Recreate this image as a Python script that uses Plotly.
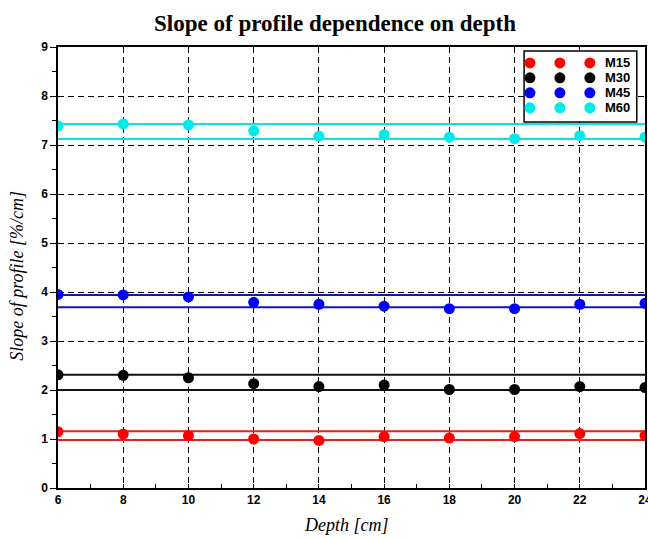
import plotly.graph_objects as go

# ---- data ----
depth = [6, 8, 10, 12, 14, 16, 18, 20, 22, 24]
series_names = ["M15", "M30", "M45", "M60"]
m15 = [1.15, 1.10, 1.07, 1.00, 0.97, 1.05, 1.02, 1.05, 1.11, 1.07]
m30 = [2.31, 2.30, 2.25, 2.13, 2.07, 2.10, 2.01, 2.01, 2.07, 2.05]
m45 = [3.95, 3.94, 3.90, 3.79, 3.75, 3.71, 3.66, 3.66, 3.75, 3.77]
m60 = [7.39, 7.43, 7.41, 7.29, 7.18, 7.21, 7.16, 7.13, 7.19, 7.16]
# horizontal band lines (lower, upper) per series
band15 = [0.98, 1.16]
band30 = [2.00, 2.31]
band45 = [3.69, 3.94]
band60 = [7.12, 7.43]
y_ticks = [0, 1, 2, 3, 4, 5, 6, 7, 8, 9]
x_ticks = [6, 8, 10, 12, 14, 16, 18, 20, 22, 24]

values = [m15, m30, m45, m60]
bands = [band15, band30, band45, band60]
marker_colors = ["#ff0000", "#000000", "#0000ff", "#00ecec"]
line_colors = ["#e82020", "#111111", "#1010d0", "#10e0e0"]

fig = go.Figure()
x_span = [min(depth), max(depth)]
for name, vals, band, mc, lc in zip(series_names, values, bands, marker_colors, line_colors):
    for b in band:
        fig.add_trace(go.Scatter(x=x_span, y=[b, b], mode="lines",
                                 line=dict(color=lc, width=2), showlegend=False,
                                 hoverinfo="skip"))
    fig.add_trace(go.Scatter(x=depth, y=vals, mode="markers", name=name,
                             marker=dict(color=mc, size=11), showlegend=False))

tick_font = dict(family="Liberation Sans", size=12, color="black", weight="bold")
title_font = dict(family="Liberation Serif", size=18, color="black")

fig.update_layout(
    width=648, height=538,
    margin=dict(l=58, r=3, t=47, b=50, autoexpand=False),
    paper_bgcolor="white", plot_bgcolor="white",
    title=dict(text="<b>Slope of profile dependence on depth</b>",
               font=dict(family="Liberation Serif", size=23, color="black"),
               x=0.517, xanchor="center", y=0.958, yanchor="middle"),
    xaxis=dict(range=[6, 24], tickvals=x_ticks, ticks="inside", ticklen=4,
               tickcolor="black", tickfont=tick_font, automargin=False,
               ticklabeloverflow="allow",
               showline=True, linecolor="black", linewidth=1.5, mirror=True,
               showgrid=True, gridcolor="black", gridwidth=1, griddash="6px,4px",
               minor=dict(dtick=1, ticks="inside", ticklen=4, tickcolor="black", showgrid=False),
               zeroline=False),
    yaxis=dict(range=[0, 9], tickvals=y_ticks, ticks="outside", ticklen=6,
               tickcolor="black", tickfont=tick_font, automargin=False,
               ticklabeloverflow="allow",
               showline=True, linecolor="black", linewidth=1.5, mirror=True,
               showgrid=True, gridcolor="black", gridwidth=1, griddash="6px,4px",
               minor=dict(dtick=0.5, ticks="outside", ticklen=4, tickcolor="black", showgrid=False),
               zeroline=False),
)

# axis titles as annotations for exact placement
fig.add_annotation(xref="paper", yref="paper", x=0.492, y=-0.084,
                   text="<i>Depth [cm]</i>", showarrow=False,
                   xanchor="center", yanchor="middle", font=title_font)
fig.add_annotation(xref="paper", yref="paper", x=-0.070, y=0.481,
                   text="<i>Slope of profile [%/cm]</i>", showarrow=False, textangle=-90,
                   xanchor="center", yanchor="middle", font=title_font)

# ---- custom legend (three dots per entry, as in the reference) ----
fig.add_shape(type="rect", xref="paper", yref="paper",
              x0=0.794, x1=0.986, y0=0.830, y1=0.991,
              fillcolor="white", line=dict(color="black", width=1.5), layer="above")
dot_x = [0.804, 0.855, 0.906]
row_y = [0.964, 0.930, 0.896, 0.862]
for name, mc, ry in zip(series_names, marker_colors, row_y):
    for dx in dot_x:
        fig.add_shape(type="circle", xref="paper", yref="paper",
                      xsizemode="pixel", ysizemode="pixel",
                      xanchor=dx, yanchor=ry, x0=-5.5, x1=5.5, y0=-5.5, y1=5.5,
                      fillcolor=mc, line=dict(color=mc, width=0), layer="above")
    fig.add_annotation(xref="paper", yref="paper", x=0.928, y=ry, text=f"<b>{name}</b>",
                       showarrow=False, xanchor="left", yanchor="middle",
                       font=dict(family="Liberation Sans", size=13, color="black"))

fig.write_html("out.html", config={"displayModeBar": False},
               post_script="document.body.style.margin='0px';document.body.style.overflow='hidden';")
